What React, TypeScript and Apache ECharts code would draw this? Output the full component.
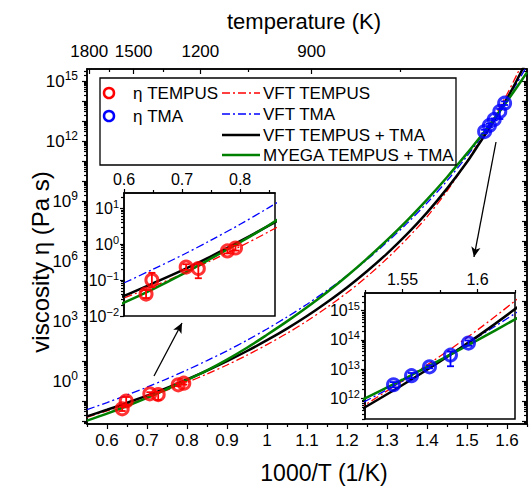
import React, { useEffect, useRef } from 'react';
import * as echarts from 'echarts';

const FONT = '"Liberation Sans", Arial, Helvetica, sans-serif';

// 1000/T sample positions of the fitted curves
const X = [0.55, 0.6, 0.65, 0.7, 0.75, 0.8, 0.85, 0.9, 0.95, 1.0, 1.05, 1.1, 1.15, 1.2, 1.25, 1.3, 1.35, 1.4, 1.45, 1.5, 1.525, 1.55, 1.575, 1.6, 1.625, 1.65];
// log10(viscosity / Pa s)
const VFT_TEMPUS = [-1.81, -1.5, -1.18, -0.83, -0.46, -0.07, 0.35, 0.8, 1.29, 1.82, 2.38, 3.0, 3.68, 4.41, 5.22, 6.12, 7.11, 8.21, 9.5, 10.98, 11.78, 12.6, 13.44, 14.34, 15.33, 16.4];
const VFT_TMA = [-1.43, -1.08, -0.7, -0.31, 0.11, 0.55, 1.02, 1.51, 2.04, 2.6, 3.2, 3.84, 4.53, 5.27, 6.07, 6.94, 7.88, 8.9, 10.01, 11.24, 11.9, 12.59, 13.32, 14.09, 14.9, 15.76];
const VFT_ALL = [-1.77, -1.44, -1.09, -0.73, -0.34, 0.08, 0.52, 0.99, 1.5, 2.04, 2.62, 3.25, 3.94, 4.68, 5.49, 6.37, 7.34, 8.42, 9.62, 10.95, 11.7, 12.46, 13.26, 14.12, 15.05, 16.04];
const MYEGA_ALL = [-1.98, -1.63, -1.25, -0.84, -0.4, 0.05, 0.53, 1.07, 1.66, 2.31, 2.98, 3.69, 4.44, 5.25, 6.12, 7.04, 8.02, 9.07, 10.19, 11.38, 12.0, 12.64, 13.31, 13.99, 14.7, 15.43];

// measured points: 1000/T and log10(viscosity), with error bar limits
const TEMPUS_X = [0.638, 0.648, 0.707, 0.728, 0.778, 0.792];
const TEMPUS_LOG = [-1.39, -1.0, -0.64, -0.68, -0.19, -0.11];
const TEMPUS_LO = [-1.5, -1.2, -0.72, -0.95, -0.26, -0.18];
const TEMPUS_HI = [-1.28, -0.8, -0.56, -0.55, -0.12, -0.04];
const TMA_X = [1.544, 1.556, 1.568, 1.582, 1.594];
const TMA_LOG = [12.47, 12.78, 13.08, 13.48, 13.89];
const TMA_LO = [12.38, 12.69, 13.03, 13.1, 13.8];
const TMA_HI = [12.56, 12.87, 13.13, 13.6, 13.98];

// ticks and labels
const MAIN_X_LABELS = [0.6, 0.7, 0.8, 0.9, 1.0, 1.1, 1.2, 1.3, 1.4, 1.5, 1.6];
const MAIN_X_MINOR = [0.55, 0.65, 0.75, 0.85, 0.95, 1.05, 1.15, 1.25, 1.35, 1.45, 1.55, 1.65];
const TEMP_LABELS = [1800, 1500, 1200, 900];
const TEMP_MINOR = [1650, 1350, 1050, 750];
const MAIN_Y_LABELS = [0, 3, 6, 9, 12, 15];
const MAIN_Y_DECADES = [-2, -1, 0, 1, 2, 3, 4, 5, 6, 7, 8, 9, 10, 11, 12, 13, 14, 15];
const IN1_X_LABELS = [0.6, 0.7, 0.8];
const IN1_X_MINOR = [0.65, 0.75, 0.85];
const IN1_Y_LABELS = [-2, -1, 0, 1];
const IN2_X_LABELS = [1.55, 1.6];
const IN2_X_MINOR = [1.525, 1.575, 1.625];
const IN2_Y_LABELS = [12, 13, 14, 15];

// arrows (data coordinates of main plot: 1000/T, log10 eta)
const ARROWS = [
  [[0.7175, 0.25], [0.7875, 2.9]],
  [[1.5725, 11.95], [1.5175, 6.2]],
];

const RED = '#ff0000';
const BLUE = '#0000ff';
const GREEN = '#008000';
const DASHDOT = [8, 3, 2, 3];

const logMinor = (lo: number, hi: number) => {
  const out: number[] = [];
  for (let n = Math.floor(lo) - 1; n <= Math.ceil(hi); n++) {
    for (let k = 2; k <= 9; k++) {
      const v = n + Math.log10(k);
      if (v >= lo && v <= hi) out.push(v);
    }
  }
  return out;
};

const expFmt = (v: number) => `{b|10}{s|${String(Math.round(v)).replace('-', '\u2212')}}`;
const dec1 = (v: number) => String(Math.round(v * 10) / 10);
const dec3 = (v: number) => String(Math.round(v * 1000) / 1000);

const richMain = {
  b: { fontSize: 17, fontFamily: FONT, color: '#000', lineHeight: 22 },
  s: { fontSize: 12, fontFamily: FONT, color: '#000', lineHeight: 12, verticalAlign: 'top' },
};
const richInset = {
  b: { fontSize: 16, fontFamily: FONT, color: '#000', lineHeight: 20 },
  s: { fontSize: 11, fontFamily: FONT, color: '#000', lineHeight: 11, verticalAlign: 'top' },
};

function mkAxis(o: any) {
  return {
    type: 'value',
    gridIndex: o.grid,
    position: o.pos,
    min: o.min,
    max: o.max,
    z: o.z ?? 0,
    axisLine: { show: o.line !== false, onZero: false, lineStyle: { color: '#000', width: 1.5 } },
    axisTick: {
      show: true,
      inside: o.inside,
      length: o.len,
      customValues: o.ticks,
      lineStyle: { color: '#000', width: 1.2 },
    },
    axisLabel: o.labels
      ? {
          show: true,
          customValues: o.labels,
          formatter: o.fmt,
          fontSize: o.fs,
          fontFamily: FONT,
          color: '#000',
          margin: o.margin,
          rich: o.rich,
        }
      : { show: false },
    splitLine: { show: false },
    minorTick: { show: false },
    splitArea: { show: false },
  };
}

const MAIN = { xmin: 0.55, xmax: 1.65, ymin: -2.15, ymax: 15.6 };
const IN1 = { xmin: 0.6, xmax: 0.86, ymin: -2, ymax: 1.42 };
const IN2 = { xmin: 1.525, xmax: 1.625, ymin: 11.3, ymax: 15.6 };

const xAxes = [
  // main grid
  mkAxis({ grid: 0, pos: 'bottom', min: MAIN.xmin, max: MAIN.xmax, ticks: MAIN_X_LABELS, len: 5, inside: false, labels: MAIN_X_LABELS, fmt: dec1, fs: 17, margin: 8 }),
  mkAxis({ grid: 0, pos: 'bottom', min: MAIN.xmin, max: MAIN.xmax, ticks: MAIN_X_MINOR, len: 3, inside: false, line: false }),
  mkAxis({ grid: 0, pos: 'top', min: MAIN.xmin, max: MAIN.xmax, ticks: TEMP_LABELS.map((t) => 1000 / t), len: 5, inside: true, labels: TEMP_LABELS.map((t) => 1000 / t), fmt: (v: number) => String(Math.round(1000 / v)), fs: 17, margin: 9 }),
  mkAxis({ grid: 0, pos: 'top', min: MAIN.xmin, max: MAIN.xmax, ticks: TEMP_MINOR.map((t) => 1000 / t), len: 3, inside: true, line: false }),
  // inset 1
  mkAxis({ grid: 1, pos: 'top', min: IN1.xmin, max: IN1.xmax, ticks: IN1_X_LABELS, len: 4, inside: false, labels: IN1_X_LABELS, fmt: dec1, fs: 16, margin: 6, z: 11 }),
  mkAxis({ grid: 1, pos: 'top', min: IN1.xmin, max: IN1.xmax, ticks: IN1_X_MINOR, len: 3, inside: false, line: false, z: 11 }),
  // inset 2
  mkAxis({ grid: 2, pos: 'top', min: IN2.xmin, max: IN2.xmax, ticks: IN2_X_LABELS, len: 4, inside: false, labels: IN2_X_LABELS, fmt: dec3, fs: 16, margin: 6, z: 11 }),
  mkAxis({ grid: 2, pos: 'top', min: IN2.xmin, max: IN2.xmax, ticks: IN2_X_MINOR, len: 3, inside: false, line: false, z: 11 }),
];

const yAxes = [
  mkAxis({ grid: 0, pos: 'left', min: MAIN.ymin, max: MAIN.ymax, ticks: MAIN_Y_DECADES, len: 5, inside: false, labels: MAIN_Y_LABELS, fmt: expFmt, fs: 17, margin: 9, rich: richMain }),
  mkAxis({ grid: 0, pos: 'left', min: MAIN.ymin, max: MAIN.ymax, ticks: logMinor(MAIN.ymin, MAIN.ymax), len: 3, inside: false, line: false }),
  mkAxis({ grid: 0, pos: 'right', min: MAIN.ymin, max: MAIN.ymax, ticks: MAIN_Y_DECADES, len: 5, inside: true }),
  mkAxis({ grid: 0, pos: 'right', min: MAIN.ymin, max: MAIN.ymax, ticks: logMinor(MAIN.ymin, MAIN.ymax), len: 3, inside: true, line: false }),
  mkAxis({ grid: 1, pos: 'left', min: IN1.ymin, max: IN1.ymax, ticks: IN1_Y_LABELS, len: 4, inside: false, labels: IN1_Y_LABELS, fmt: expFmt, fs: 16, margin: 5, rich: richInset, z: 11 }),
  mkAxis({ grid: 1, pos: 'left', min: IN1.ymin, max: IN1.ymax, ticks: logMinor(IN1.ymin, IN1.ymax), len: 3, inside: false, line: false, z: 11 }),
  mkAxis({ grid: 2, pos: 'left', min: IN2.ymin, max: IN2.ymax, ticks: IN2_Y_LABELS, len: 4, inside: false, labels: IN2_Y_LABELS, fmt: expFmt, fs: 16, margin: 5, rich: richInset, z: 11 }),
  mkAxis({ grid: 2, pos: 'left', min: IN2.ymin, max: IN2.ymax, ticks: logMinor(IN2.ymin, IN2.ymax), len: 3, inside: false, line: false, z: 11 }),
];

const pairs = (xs: number[], ys: number[]) => xs.map((x, i) => [x, ys[i]]);

const CURVES = [
  { data: VFT_TEMPUS, color: RED, width: 1.3, type: DASHDOT },
  { data: VFT_TMA, color: BLUE, width: 1.3, type: DASHDOT },
  { data: VFT_ALL, color: '#000', width: 2.5, type: 'solid' },
  { data: MYEGA_ALL, color: GREEN, width: 2.5, type: 'solid' },
];

function errorSeries(xi: number, yi: number, xs: number[], lo: number[], hi: number[], color: string, z: number) {
  return {
    type: 'custom',
    xAxisIndex: xi,
    yAxisIndex: yi,
    z,
    silent: true,
    clip: true,
    data: xs.map((x, i) => [x, lo[i], hi[i]]),
    encode: { x: 0, y: [1, 2] },
    renderItem: (_p: any, api: any) => {
      const x = api.value(0);
      const a = api.coord([x, api.value(1)]);
      const b = api.coord([x, api.value(2)]);
      const w = 3.5;
      const st = { stroke: color, lineWidth: 1.8, fill: 'none' };
      return {
        type: 'group',
        children: [
          { type: 'line', shape: { x1: a[0], y1: a[1], x2: b[0], y2: b[1] }, style: st },
          { type: 'line', shape: { x1: a[0] - w, y1: a[1], x2: a[0] + w, y2: a[1] }, style: st },
          { type: 'line', shape: { x1: b[0] - w, y1: b[1], x2: b[0] + w, y2: b[1] }, style: st },
        ],
      };
    },
  };
}

function seriesForGrid(xi: number, yi: number, z: number, withArrows: boolean) {
  const out: any[] = [];
  CURVES.forEach((c, idx) => {
    const s: any = {
      type: 'line',
      xAxisIndex: xi,
      yAxisIndex: yi,
      data: pairs(X, c.data),
      showSymbol: false,
      symbol: 'none',
      smooth: 0.3,
      clip: true,
      silent: true,
      z,
      lineStyle: { color: c.color, width: c.width, type: c.type },
    };
    if (withArrows && idx === 2) {
      s.markLine = {
        silent: true,
        symbol: ['none', 'arrow'],
        symbolSize: [7, 10],
        label: { show: false },
        lineStyle: { color: '#000', width: 1.3, type: 'solid' },
        data: ARROWS.map(([p, q]) => [{ coord: p }, { coord: q }]),
      };
    }
    out.push(s);
  });
  out.push(errorSeries(xi, yi, TEMPUS_X, TEMPUS_LO, TEMPUS_HI, RED, z + 1));
  out.push(errorSeries(xi, yi, TMA_X, TMA_LO, TMA_HI, BLUE, z + 1));
  const sc = (xs: number[], ys: number[], color: string) => ({
    type: 'scatter',
    xAxisIndex: xi,
    yAxisIndex: yi,
    data: pairs(xs, ys),
    symbol: 'circle',
    symbolSize: 12,
    silent: true,
    clip: true,
    z: z + 2,
    itemStyle: { color: 'rgba(255,255,255,0)', borderColor: color, borderWidth: 3 },
  });
  out.push(sc(TEMPUS_X, TEMPUS_LOG, RED));
  out.push(sc(TMA_X, TMA_LOG, BLUE));
  return out;
}

const txt = (text: string, x: number, y: number, size: number, align = 'left', rotation = 0) => ({
  type: 'text',
  x,
  y,
  rotation,
  z: 50,
  silent: true,
  style: {
    text,
    fontSize: size,
    fontFamily: FONT,
    fill: '#000',
    align,
    textAlign: align,
    verticalAlign: 'middle',
    textVerticalAlign: 'middle',
  },
});

const LEG_ROWS = [93, 114, 135, 155];

const graphics: any[] = [
  txt('temperature (K)', 304, 21, 22, 'center'),
  txt('1000/T (1/K)', 324, 473, 23, 'center'),
  txt('viscosity \u03b7 (Pa s)', 40, 262, 24, 'center', Math.PI / 2),
  {
    type: 'rect',
    z: 49,
    silent: true,
    shape: { x: 100, y: 78, width: 356, height: 87 },
    style: { fill: '#fff', stroke: '#000', lineWidth: 1.3 },
  },
  { type: 'circle', z: 50, silent: true, shape: { cx: 109, cy: LEG_ROWS[0], r: 5 }, style: { fill: 'none', stroke: RED, lineWidth: 2.5 } },
  { type: 'circle', z: 50, silent: true, shape: { cx: 109, cy: LEG_ROWS[1] + 2, r: 5 }, style: { fill: 'none', stroke: BLUE, lineWidth: 2.5 } },
  txt('\u03b7 TEMPUS', 133, LEG_ROWS[0], 17),
  txt('\u03b7 TMA', 133, LEG_ROWS[1] + 2, 17),
  { type: 'line', z: 50, silent: true, shape: { x1: 222, y1: LEG_ROWS[0], x2: 260, y2: LEG_ROWS[0] }, style: { stroke: RED, lineWidth: 1.3, lineDash: DASHDOT } },
  { type: 'line', z: 50, silent: true, shape: { x1: 222, y1: LEG_ROWS[1], x2: 260, y2: LEG_ROWS[1] }, style: { stroke: BLUE, lineWidth: 1.3, lineDash: DASHDOT } },
  { type: 'line', z: 50, silent: true, shape: { x1: 222, y1: LEG_ROWS[2], x2: 260, y2: LEG_ROWS[2] }, style: { stroke: '#000', lineWidth: 2.5 } },
  { type: 'line', z: 50, silent: true, shape: { x1: 222, y1: LEG_ROWS[3], x2: 260, y2: LEG_ROWS[3] }, style: { stroke: GREEN, lineWidth: 2.5 } },
  txt('VFT TEMPUS', 263, LEG_ROWS[0], 17),
  txt('VFT TMA', 263, LEG_ROWS[1], 17),
  txt('VFT TEMPUS + TMA', 263, LEG_ROWS[2], 17),
  txt('MYEGA TEMPUS + TMA', 263, LEG_ROWS[3], 17),
];

const option: any = {
  animation: false,
  backgroundColor: '#fff',
  grid: [
    { left: 87, top: 69, width: 440, height: 355, show: true, borderColor: '#000', borderWidth: 1.5, backgroundColor: 'rgba(0,0,0,0)' },
    { left: 124, top: 193, width: 151, height: 123, show: true, borderColor: '#000', borderWidth: 1.5, backgroundColor: '#fff', z: 10 },
    { left: 365, top: 293, width: 150, height: 126, show: true, borderColor: '#000', borderWidth: 1.5, backgroundColor: '#fff', z: 10 },
  ],
  xAxis: xAxes,
  yAxis: yAxes,
  series: [...seriesForGrid(0, 0, 2, true), ...seriesForGrid(4, 4, 12, false), ...seriesForGrid(6, 6, 12, false)],
  graphic: { elements: graphics },
};

export default function App() {
  const ref = useRef<HTMLDivElement>(null);
  useEffect(() => {
    const chart = echarts.init(ref.current!, null, { renderer: 'svg' });
    chart.setOption(option);
    return () => chart.dispose();
  }, []);
  return (
    <div
      ref={ref}
      style={{ position: 'fixed', left: 0, top: 0, width: 529, height: 487, background: '#fff' }}
    />
  );
}
